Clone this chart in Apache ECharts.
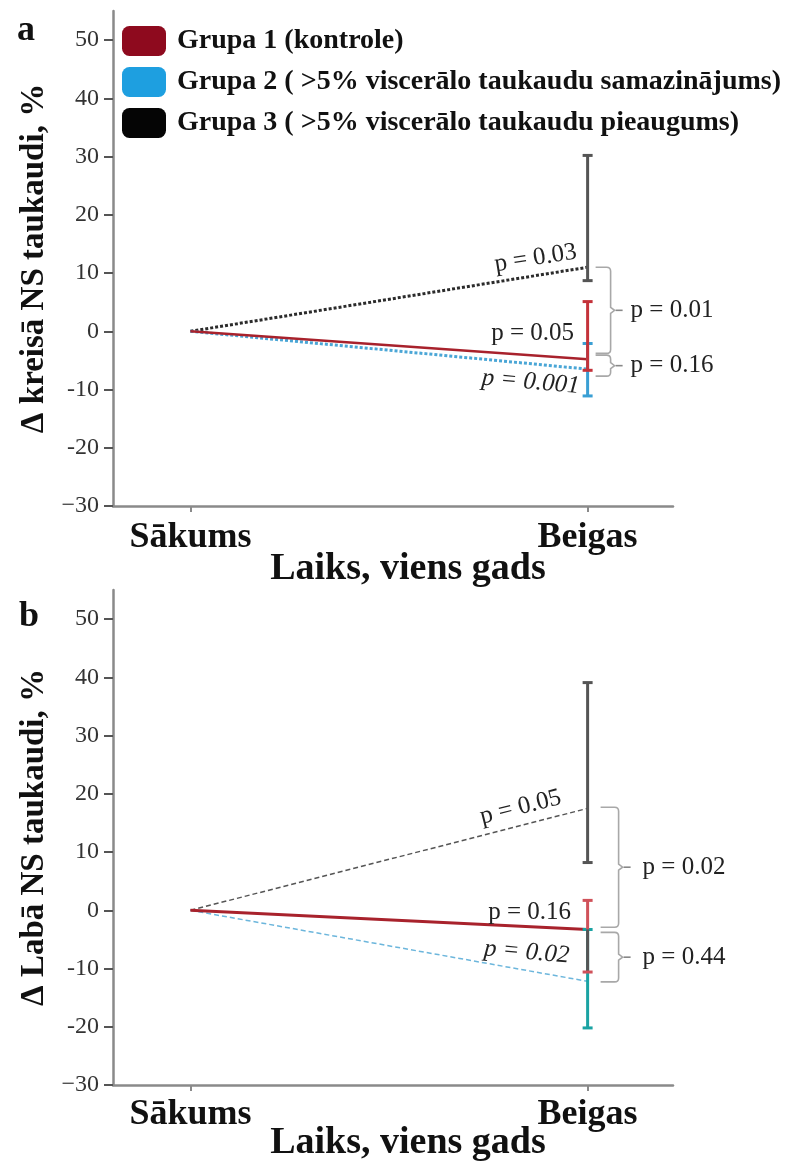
<!DOCTYPE html>
<html>
<head>
<meta charset="utf-8">
<script src="https://cdn.jsdelivr.net/npm/echarts@6/dist/echarts.min.js"></script>
<style>
  html, body { margin: 0; padding: 0; background: #fff; }
  #main { width: 793px; height: 1164px; }
</style>
</head>
<body>
<div id="main"></div>
<script>
// ---- data ----
var categories = ['Sākums', 'Beigas'];
var yTicks = [-30, -20, -10, 0, 10, 20, 30, 40, 50];
var yTickLabels = ['−30', '-20', '-10', '0', '10', '20', '30', '40', '50'];
var groupNames = [
    'Grupa 1 (kontrole)',
    'Grupa 2 ( >5% viscerālo taukaudu samazinājums)',
    'Grupa 3 ( >5% viscerālo taukaudu pieaugums)'
];

// a: kreisā NS taukaudi, change from Sākums to Beigas
var leftG1 = [0, -4.8];
var leftG2 = [0, -6.5];
var leftG3 = [0, 11.0];
var leftErrG1 = [-6.7, 5.1];     // [low, high] at Beigas
var leftErrG2 = [-11.1, -2.1];
var leftErrG3 = [8.7, 30.2];
var leftTrendP = ['p = 0.05', 'p = 0.001', 'p = 0.03'];
var leftCompare = [[11.0, -3.8], [-4.1, -7.7]];
var leftCompareP = ['p = 0.01', 'p = 0.16'];

// b: labā NS taukaudi
var rightG1 = [0, -3.3];
var rightG2 = [0, -12.2];
var rightG3 = [0, 17.5];
var rightErrG1 = [-10.6, 1.7];
var rightErrG2 = [-20.2, -3.3];
var rightErrG3 = [8.2, 39.1];
var rightTrendP = ['p = 0.16', 'p = 0.02', 'p = 0.05'];
var rightCompare = [[17.7, -2.9], [-3.8, -12.3]];
var rightCompareP = ['p = 0.02', 'p = 0.44'];

// ---- styles / layout ----
var FONT = 'Liberation Serif';
var legendColors = ['#8e0a1e', '#1e9fe0', '#050505'];

var leftTrendLayout = [
    { dx: -55, dy: -26, rot: 0, italic: false },
    { dx: -57, dy: 13, rot: -5, italic: true },
    { dx: -52, dy: -9, rot: 9, italic: false }
];
var rightTrendLayout = [
    { dx: -58, dy: -17, rot: 0, italic: false },
    { dx: -61, dy: -29, rot: -5, italic: true },
    { dx: -67, dy: -1, rot: 14, italic: false }
];

var myChart = echarts.init(document.getElementById('main'));

function xAxisCfg(idx, labelMargin, nameGap) {
    return {
        type: 'value', gridIndex: idx, min: -0.195, max: 1.215,
        splitLine: { show: false },
        axisLine: { onZero: false, lineStyle: { color: '#8a8a8a', width: 2.5 } },
        axisTick: { customValues: [0, 1], length: 6, lineStyle: { color: '#8a8a8a', width: 2 } },
        axisLabel: {
            customValues: [0, 1], margin: labelMargin,
            formatter: function (v) { return categories[Math.round(v)]; },
            fontFamily: FONT, fontWeight: 'bold', fontSize: 36, color: '#111'
        },
        name: 'Laiks, viens gads', nameLocation: 'middle', nameGap: nameGap,
        nameMoveOverlap: false,
        nameTextStyle: { fontFamily: FONT, fontWeight: 'bold', fontSize: 38, color: '#111', padding: [0, 0, 0, 30] }
    };
}

function yAxisCfg(idx, name) {
    return {
        type: 'value', gridIndex: idx, min: -30, max: 55, interval: 10,
        splitLine: { show: false },
        axisLine: { show: true, onZero: false, lineStyle: { color: '#8a8a8a', width: 2.5 } },
        axisTick: { show: true, customValues: yTicks, length: 9, lineStyle: { color: '#555', width: 2 } },
        axisLabel: {
            customValues: yTicks, margin: 14,
            formatter: function (v) { return yTickLabels[yTicks.indexOf(v)]; },
            fontFamily: FONT, fontSize: 24, color: '#333'
        },
        name: name, nameLocation: 'middle', nameRotate: 90, nameGap: 54,
        nameTextStyle: { fontFamily: FONT, fontWeight: 'bold', fontSize: 33, color: '#111' }
    };
}

function lineSeries(name, idx, data, color, width, type) {
    return {
        name: name, type: 'line', xAxisIndex: idx, yAxisIndex: idx,
        data: data.map(function (v, i) { return [i, v]; }),
        symbol: 'none', silent: true, z: 3,
        itemStyle: { color: color },
        lineStyle: { color: color, width: width, type: type }
    };
}

// error bars: bars = [[low, high]], means used for two-tone bars
function errorSeries(idx, bars, means, colors, lowerColors) {
    return {
        type: 'custom', xAxisIndex: idx, yAxisIndex: idx, silent: true, z: 4,
        data: bars.map(function (b) { return [1, b[0], b[1]]; }),
        encode: { x: 0, y: [1, 2] },
        renderItem: function (params, api) {
            var i = params.dataIndex;
            var lo = api.coord([api.value(0), api.value(1)]);
            var hi = api.coord([api.value(0), api.value(2)]);
            var c = colors[i], lc = lowerColors[i] || c;
            var w = 5;
            var kids = [];
            if (lowerColors[i]) {
                var m = api.coord([1, means[i]]);
                kids.push({ type: 'line', shape: { x1: m[0], y1: m[1], x2: hi[0], y2: hi[1] }, style: { stroke: c, lineWidth: 3 } });
                kids.push({ type: 'line', shape: { x1: lo[0], y1: lo[1], x2: m[0], y2: m[1] }, style: { stroke: lc, lineWidth: 3 } });
            } else {
                kids.push({ type: 'line', shape: { x1: lo[0], y1: lo[1], x2: hi[0], y2: hi[1] }, style: { stroke: c, lineWidth: 3 } });
            }
            kids.push({ type: 'line', shape: { x1: lo[0] - w, y1: lo[1], x2: lo[0] + w, y2: lo[1] }, style: { stroke: c, lineWidth: 3 } });
            kids.push({ type: 'line', shape: { x1: hi[0] - w, y1: hi[1], x2: hi[0] + w, y2: hi[1] }, style: { stroke: c, lineWidth: 3 } });
            return { type: 'group', children: kids };
        }
    };
}

// p-value labels next to each trend line end
function trendLabelSeries(idx, means, texts, layout) {
    return {
        type: 'custom', xAxisIndex: idx, yAxisIndex: idx, silent: true, z: 6,
        data: means.map(function (m) { return [1, m]; }),
        encode: { x: 0, y: 1 },
        renderItem: function (params, api) {
            var L = layout[params.dataIndex];
            var p = api.coord([api.value(0), api.value(1)]);
            return {
                type: 'text', x: p[0] + L.dx, y: p[1] + L.dy,
                rotation: L.rot * Math.PI / 180,
                style: {
                    text: texts[params.dataIndex], align: 'center', verticalAlign: 'middle',
                    fontFamily: FONT, fontSize: 25, fontStyle: L.italic ? 'italic' : 'normal',
                    fill: '#222'
                }
            };
        }
    };
}

// between-group brackets with p-values
function bracketSeries(idx, pairs, texts, startOff, vertOff, textGap) {
    return {
        type: 'custom', xAxisIndex: idx, yAxisIndex: idx, silent: true, z: 5,
        data: pairs.map(function (p) { return [1, p[0], p[1]]; }),
        encode: { x: 0, y: [1, 2] },
        renderItem: function (params, api) {
            var t = api.coord([api.value(0), api.value(1)]);
            var b = api.coord([api.value(0), api.value(2)]);
            var xs = t[0] + startOff, xv = t[0] + vertOff;
            var yt = t[1], yb = b[1], ym = (yt + yb) / 2;
            var r = 4;
            var path = 'M' + xs + ',' + yt + ' L' + (xv - r) + ',' + yt +
                ' Q' + xv + ',' + yt + ' ' + xv + ',' + (yt + r) +
                ' L' + xv + ',' + (ym - 3) + ' L' + (xv + 4) + ',' + ym + ' L' + xv + ',' + (ym + 3) +
                ' L' + xv + ',' + (yb - r) + ' Q' + xv + ',' + yb + ' ' + (xv - r) + ',' + yb +
                ' L' + xs + ',' + yb;
            return {
                type: 'group', children: [
                    { type: 'path', shape: { pathData: path }, style: { stroke: '#a8a8a8', lineWidth: 1.6, fill: null } },
                    { type: 'line', shape: { x1: xv + 5, y1: ym, x2: xv + 12, y2: ym }, style: { stroke: '#888', lineWidth: 1.6 } },
                    {
                        type: 'text', x: xv + textGap, y: ym,
                        style: {
                            text: texts[params.dataIndex], align: 'left', verticalAlign: 'middle',
                            fontFamily: FONT, fontSize: 25, fill: '#222'
                        }
                    }
                ]
            };
        }
    };
}

var option = {
    animation: false,
    backgroundColor: '#fff',
    title: [
        { text: 'a', left: 12, top: 8, textStyle: { fontFamily: FONT, fontWeight: 'bold', fontSize: 36, color: '#111' } },
        { text: 'b', left: 14, top: 594, textStyle: { fontFamily: FONT, fontWeight: 'bold', fontSize: 36, color: '#111' } }
    ],
    legend: {
        left: 117, top: 21, orient: 'vertical',
        icon: 'roundRect', itemWidth: 44, itemHeight: 30, itemGap: 11,
        selectedMode: false,
        textStyle: { fontFamily: FONT, fontWeight: 'bold', fontSize: 28, color: '#111', padding: [0, 0, 0, 6] },
        data: groupNames.map(function (n, i) {
            return { name: n, itemStyle: { color: legendColors[i], borderWidth: 0 } };
        })
    },
    grid: [
        { left: 113, top: 11, width: 560, height: 495, outerBoundsMode: 'none', containLabel: false },
        { left: 113, top: 590, width: 560, height: 495, outerBoundsMode: 'none', containLabel: false }
    ],
    xAxis: [xAxisCfg(0, 14, 44), xAxisCfg(1, 12, 39)],
    yAxis: [yAxisCfg(0, 'Δ kreisā NS taukaudi, %'), yAxisCfg(1, 'Δ Labā NS taukaudi, %')],
    series: [
        // panel a
        lineSeries(groupNames[2], 0, leftG3, '#2b2b2b', 3, [3, 2]),
        lineSeries(groupNames[1], 0, leftG2, '#4aa6d6', 3, [3, 2]),
        lineSeries(groupNames[0], 0, leftG1, '#a8222c', 2.5, 'solid'),
        errorSeries(0, [leftErrG2, leftErrG1, leftErrG3], [leftG2[1], leftG1[1], leftG3[1]],
            ['#3a9fd4', '#c4323a', '#555555'], [null, null, null]),
        trendLabelSeries(0, [leftG1[1], leftG2[1], leftG3[1]], leftTrendP, leftTrendLayout),
        bracketSeries(0, leftCompare, leftCompareP, 8, 23, 20),
        // panel b
        lineSeries(groupNames[2], 1, rightG3, '#555555', 1.5, [5, 3]),
        lineSeries(groupNames[1], 1, rightG2, '#6cb6dc', 1.5, [5, 3]),
        lineSeries(groupNames[0], 1, rightG1, '#a8222c', 3, 'solid'),
        errorSeries(1, [rightErrG2, rightErrG1, rightErrG3], [rightG2[1], rightG1[1], rightG3[1]],
            ['#1aa3a3', '#d0525a', '#555555'], [null, '#555555', null]),
        trendLabelSeries(1, [rightG1[1], rightG2[1], rightG3[1]], rightTrendP, rightTrendLayout),
        bracketSeries(1, rightCompare, rightCompareP, 13, 31, 24)
    ]
};

myChart.setOption(option);
</script>
</body>
</html>
